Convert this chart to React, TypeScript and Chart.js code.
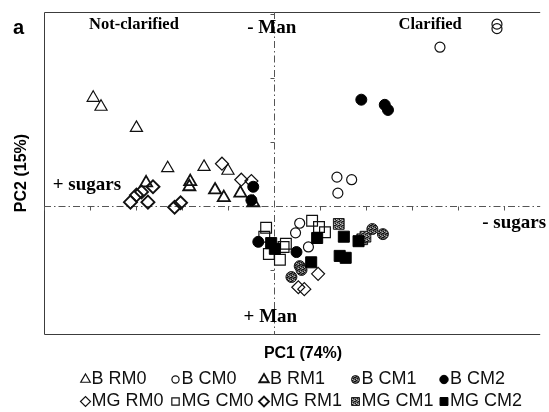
import { useEffect, useRef } from "react";
import { Chart, registerables } from "chart.js";
import { drawPoint } from "chart.js/helpers";

Chart.register(...registerables);

type Pt = { x: number; y: number };
const p = (x: number, y: number): Pt => ({ x, y });

// PCA scores (PC1, PC2) per sample group
const B_RM0: Pt[] = [p(-3.93, 1.69), p(-3.76, 1.55), p(-2.99, 1.22), p(-2.31, 0.59), p(-1.52, 0.61), p(-1.0, 0.55)];
const B_CM0: Pt[] = [p(3.61, 2.48), p(4.85, 2.84), p(4.85, 2.77), p(1.37, 0.45), p(1.69, 0.41), p(1.39, 0.2), p(0.56, -0.27), p(0.47, -0.42), p(0.75, -0.64)];
const B_RM1: Pt[] = [p(-2.78, 0.36), p(-1.82, 0.38), p(-1.84, 0.3), p(-1.28, 0.25), p(-1.09, 0.13), p(-0.73, 0.2), p(-0.45, 0.05)];
const B_CM1: Pt[] = [p(0.56, -0.94), p(0.6, -1.0), p(0.38, -1.11), p(2.14, -0.36), p(2.37, -0.44)];
const B_CM2: Pt[] = [p(-0.45, 0.3), p(-0.49, 0.09), p(1.9, 1.66), p(2.41, 1.58), p(2.48, 1.5), p(-0.34, -0.56), p(0.49, -0.72)];
const MG_RM0: Pt[] = [p(-1.13, 0.66), p(-0.71, 0.41), p(-0.49, 0.39), p(0.96, -1.06), p(0.53, -1.27), p(0.66, -1.3)];
const MG_CM0: Pt[] = [p(-0.17, -0.34), p(-0.21, -0.48), p(0.26, -0.59), p(0.21, -0.64), p(-0.11, -0.75), p(0.13, -0.84), p(0.83, -0.23), p(0.98, -0.33), p(1.11, -0.41)];
const MG_RM1: Pt[] = [p(-2.63, 0.3), p(-2.88, 0.22), p(-2.99, 0.17), p(-3.12, 0.06), p(-2.74, 0.06), p(-2.16, -0.02), p(-2.03, 0.05)];
const MG_CM1: Pt[] = [p(1.41, -0.28), p(1.92, -0.52), p(1.99, -0.48)];
const MG_CM2: Pt[] = [p(-0.06, -0.58), p(0.02, -0.67), p(0.94, -0.5), p(0.81, -0.88), p(1.52, -0.48), p(1.84, -0.55), p(1.43, -0.78), p(1.56, -0.81)];

const X_MIN = -5;
const X_MAX = 5.79;
const Y_MIN = -2;
const Y_MAX = 3.03;

const X_TITLE = "PC1 (74%)";
const Y_TITLE = "PC2 (15%)";
const PANEL = "a";

// legend layout: two rows of five entries
const LEGEND_ROWS = [
  ["B RM0", "B CM0", "B RM1", "B CM1", "B CM2"],
  ["MG RM0", "MG CM0", "MG RM1", "MG CM1", "MG CM2"],
];

const SERIF = '"Liberation Serif", "Times New Roman", serif';
const SANS = '"Liberation Sans", Arial, sans-serif';

function texture(bg: string, fg: string, hi: string): CanvasPattern | string {
  const c = document.createElement("canvas");
  c.width = 4;
  c.height = 4;
  const g = c.getContext("2d");
  if (!g) return bg;
  g.fillStyle = bg;
  g.fillRect(0, 0, 4, 4);
  g.fillStyle = fg;
  g.fillRect(0, 0, 1, 1);
  g.fillRect(2, 1, 1, 1);
  g.fillRect(1, 2, 1, 1);
  g.fillRect(3, 3, 1, 1);
  g.fillRect(3, 1, 1, 1);
  g.fillStyle = hi;
  g.fillRect(2, 0, 1, 1);
  g.fillRect(0, 3, 1, 1);
  return g.createPattern(c, "repeat") || bg;
}

type Style = {
  pointStyle: string;
  radius: number;
  legendRadius: number;
  fill: any;
  border: string;
  width: number;
};

export default function App() {
  const ref = useRef<HTMLCanvasElement | null>(null);

  useEffect(() => {
    const canvas = ref.current;
    if (!canvas) return;

    const none = "rgba(0,0,0,0)";
    const cm1Circle = texture("#5a5a5a", "#111", "#b0b0b0");
    const cm1Square = texture("#707070", "#1a1a1a", "#c4c4c4");

    const styles: Record<string, Style> = {
      "B RM0": { pointStyle: "triangle", radius: 7, legendRadius: 5.5, fill: none, border: "#111", width: 1.2 },
      "B CM0": { pointStyle: "circle", radius: 5, legendRadius: 3.6, fill: none, border: "#111", width: 1.2 },
      "B RM1": { pointStyle: "triangle", radius: 7, legendRadius: 5.5, fill: none, border: "#111", width: 1.8 },
      "B CM1": { pointStyle: "circle", radius: 5.5, legendRadius: 4, fill: cm1Circle, border: "#1a1a1a", width: 1 },
      "B CM2": { pointStyle: "circle", radius: 5.5, legendRadius: 4.2, fill: "#000", border: "#000", width: 1 },
      "MG RM0": { pointStyle: "rectRot", radius: 6.5, legendRadius: 5, fill: none, border: "#111", width: 1.2 },
      "MG CM0": { pointStyle: "rect", radius: 7.6, legendRadius: 5.2, fill: none, border: "#111", width: 1.2 },
      "MG RM1": { pointStyle: "rectRot", radius: 6.5, legendRadius: 5, fill: none, border: "#111", width: 1.9 },
      "MG CM1": { pointStyle: "rect", radius: 7.6, legendRadius: 5.6, fill: cm1Square, border: "#1a1a1a", width: 1 },
      "MG CM2": { pointStyle: "rect", radius: 7.8, legendRadius: 5.6, fill: "#000", border: "#000", width: 1 },
    };

    // earlier entries are drawn on top
    const series: [string, Pt[]][] = [
      ["B CM2", B_CM2],
      ["MG CM2", MG_CM2],
      ["B CM1", B_CM1],
      ["MG CM1", MG_CM1],
      ["B CM0", B_CM0],
      ["MG CM0", MG_CM0],
      ["MG RM1", MG_RM1],
      ["MG RM0", MG_RM0],
      ["B RM1", B_RM1],
      ["B RM0", B_RM0],
    ];

    const datasets = series.map(([label, data]) => {
      const s = styles[label];
      return {
        label,
        data,
        pointStyle: s.pointStyle as any,
        pointRadius: s.radius,
        backgroundColor: s.fill,
        borderColor: s.border,
        borderWidth: s.width,
        showLine: false,
      };
    });

    // plot frame, dashed zero axes and their small ticks
    const framePlugin = {
      id: "frame",
      beforeDatasetsDraw(chart: any) {
        const { ctx, chartArea: a, scales } = chart;
        const x0 = Math.round(scales.x.getPixelForValue(0)) + 0.5;
        const y0 = Math.round(scales.y.getPixelForValue(0)) + 0.5;
        ctx.save();
        ctx.strokeStyle = "#3c3c3c";
        ctx.lineWidth = 1;
        ctx.beginPath();
        ctx.moveTo(a.right, a.top + 0.5);
        ctx.lineTo(a.left + 0.5, a.top + 0.5);
        ctx.lineTo(a.left + 0.5, a.bottom + 0.5);
        ctx.lineTo(a.right, a.bottom + 0.5);
        ctx.stroke();

        ctx.strokeStyle = "#555";
        ctx.setLineDash([7, 3, 1.5, 3]);
        ctx.beginPath();
        ctx.moveTo(a.left, y0);
        ctx.lineTo(a.right, y0);
        ctx.moveTo(x0, a.top);
        ctx.lineTo(x0, a.bottom);
        ctx.stroke();
        ctx.setLineDash([]);

        ctx.beginPath();
        for (let v = Math.ceil(Y_MIN); v <= Math.floor(Y_MAX); v++) {
          if (v === 0) continue;
          const py = Math.round(scales.y.getPixelForValue(v)) + 0.5;
          ctx.moveTo(x0 - 4, py);
          ctx.lineTo(x0, py);
        }
        for (let v = Math.ceil(X_MIN); v <= Math.floor(X_MAX); v++) {
          if (v === 0) continue;
          const px = Math.round(scales.x.getPixelForValue(v)) + 0.5;
          ctx.moveTo(px, y0);
          ctx.lineTo(px, y0 + 4);
        }
        ctx.stroke();
        ctx.restore();
      },
    };

    // region annotations placed in PC coordinates
    const notes = [
      { text: "Not-clarified", x: -4.02, y: 2.83, size: 16.5 },
      { text: "- Man", x: -0.58, y: 2.78, size: 19 },
      { text: "Clarified", x: 2.71, y: 2.83, size: 16.5 },
      { text: "+ sugars", x: -4.81, y: 0.33, size: 19 },
      { text: "- sugars", x: 4.53, y: -0.27, size: 19 },
      { text: "+ Man", x: -0.66, y: -1.73, size: 19 },
    ];

    const textPlugin = {
      id: "texts",
      afterDraw(chart: any) {
        const { ctx, chartArea: a, scales } = chart;
        ctx.save();
        ctx.fillStyle = "#000";
        ctx.textBaseline = "middle";
        ctx.textAlign = "left";
        for (const n of notes) {
          ctx.font = `bold ${n.size}px ${SERIF}`;
          ctx.fillText(n.text, scales.x.getPixelForValue(n.x), scales.y.getPixelForValue(n.y));
        }

        ctx.font = `bold 20px ${SANS}`;
        ctx.fillText(PANEL, 13, 28);

        ctx.font = `bold 16px ${SANS}`;
        ctx.textAlign = "center";
        ctx.fillText(X_TITLE, 303, 354);
        ctx.save();
        ctx.translate(22, (a.top + a.bottom) / 2);
        ctx.rotate(-Math.PI / 2);
        ctx.fillText(Y_TITLE, 0, 0);
        ctx.restore();

        // legend
        const colSym = [85.5, 175.5, 264, 355.5, 444];
        const rowY = [379, 401];
        ctx.font = `18px ${SANS}`;
        ctx.textAlign = "left";
        LEGEND_ROWS.forEach((row, r) => {
          row.forEach((label, c) => {
            const s = styles[label];
            const cx = colSym[c];
            const cy = rowY[r];
            ctx.save();
            ctx.fillStyle = s.fill;
            ctx.strokeStyle = s.border;
            ctx.lineWidth = s.width;
            drawPoint(ctx, { pointStyle: s.pointStyle as any, radius: s.legendRadius, rotation: 0, borderWidth: s.width }, cx, cy + 0.5);
            ctx.restore();
            ctx.fillStyle = "#111";
            ctx.fillText(label, cx + 6, cy);
          });
        });
        ctx.restore();
      },
    };

    const chart = new Chart(canvas, {
      type: "scatter",
      data: { datasets: datasets as any },
      options: {
        animation: false,
        responsive: false,
        events: [],
        layout: { padding: { left: 44, top: 12, right: 0, bottom: 78 } },
        scales: {
          x: { type: "linear", display: false, min: X_MIN, max: X_MAX },
          y: { type: "linear", display: false, min: Y_MIN, max: Y_MAX },
        },
        plugins: {
          legend: { display: false },
          tooltip: { enabled: false },
        },
      },
      plugins: [framePlugin, textPlugin],
    });

    return () => chart.destroy();
  }, []);

  return (
    <canvas
      ref={ref}
      width={549}
      height={412}
      style={{ position: "fixed", left: 0, top: 0, width: 549, height: 412, background: "#fff" }}
    />
  );
}
